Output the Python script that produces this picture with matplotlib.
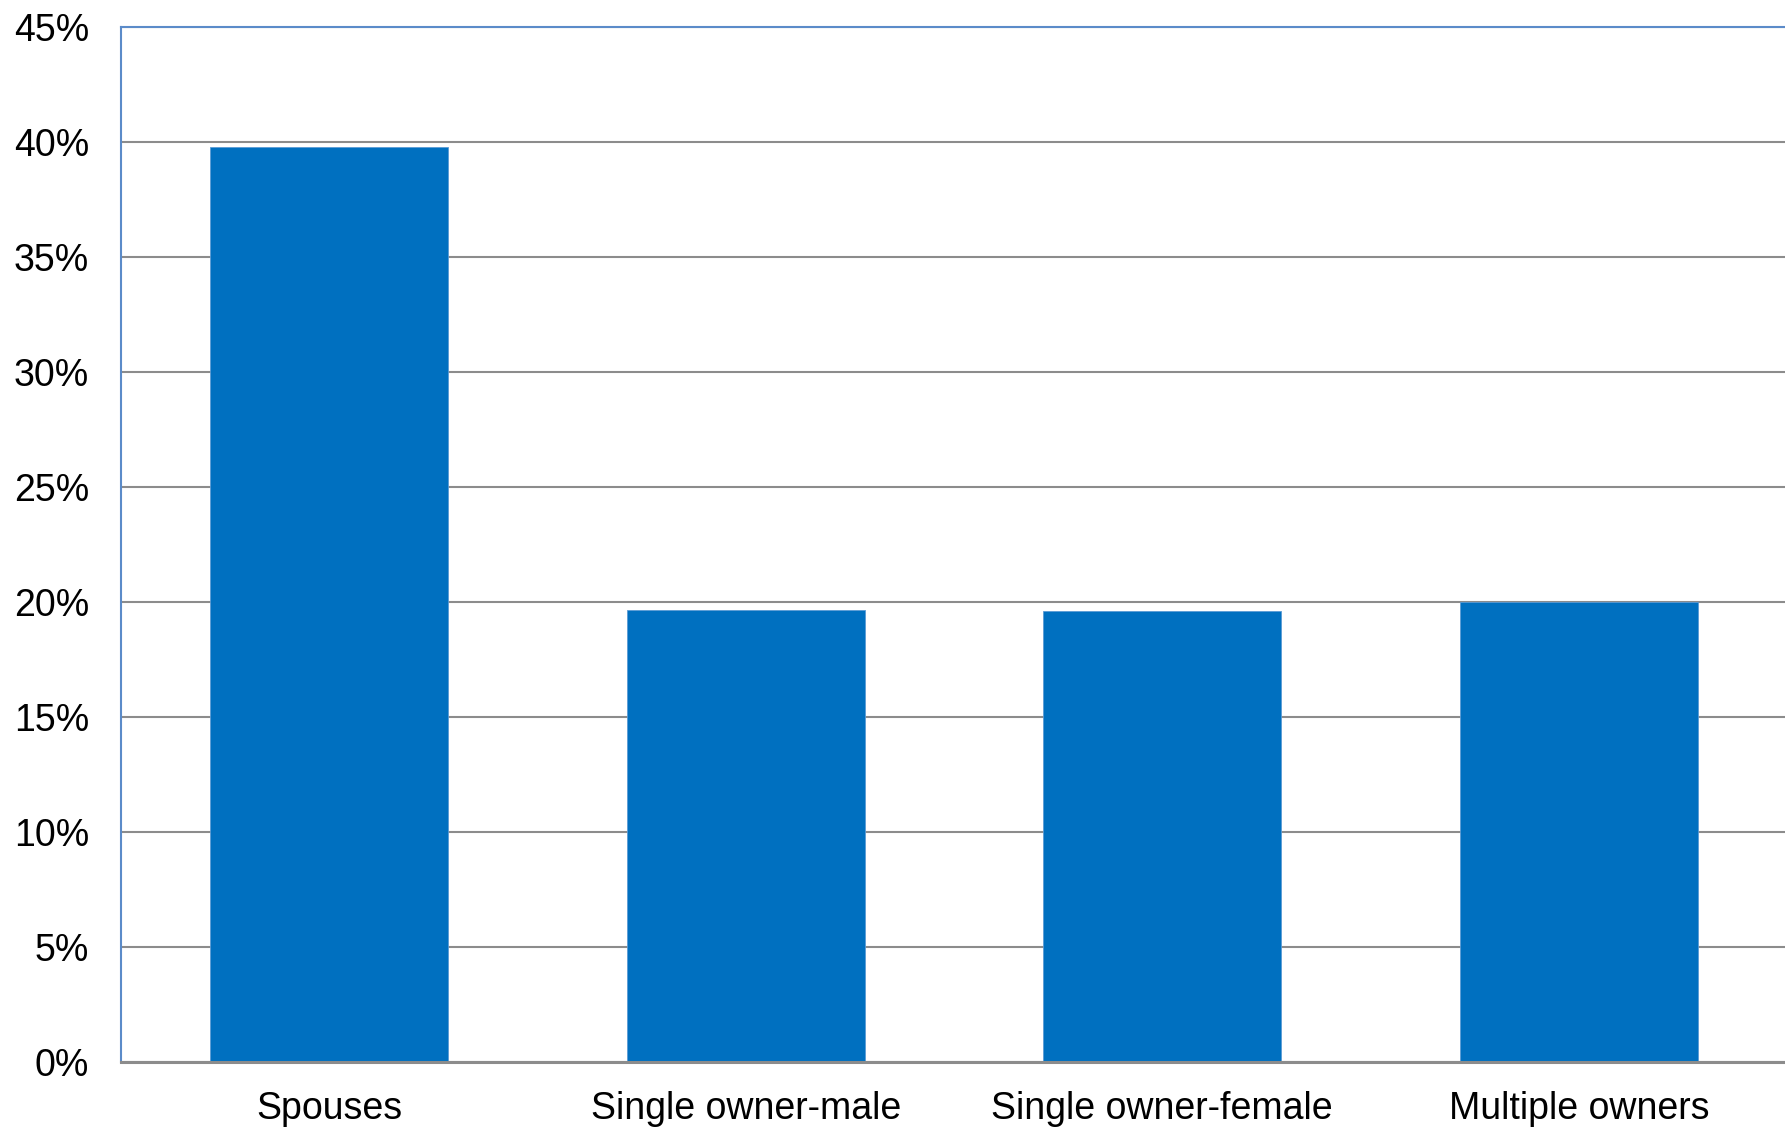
import matplotlib
matplotlib.use("Agg")
import matplotlib.pyplot as plt
from matplotlib.ticker import FuncFormatter, MultipleLocator

plt.rcParams['font.family'] = ['Liberation Sans', 'DejaVu Sans']

categories = ["Spouses", "Single owner-male", "Single owner-female", "Multiple owners"]
shares = [39.8, 19.65, 19.6, 20.0]

fig = plt.figure(figsize=(17.85, 11.28), dpi=100)
ax = fig.add_axes([121 / 1785, 1 - 1062 / 1128, 1 - 119 / 1785, (1062 - 27) / 1128])

x = list(range(len(categories)))
ax.bar(x, shares, width=0.572, color="#0070C0", edgecolor="#5B9BD5", linewidth=0.6, zorder=3)

ax.set_xlim(-0.5, len(categories) - 0.5)
ax.set_ylim(0, 45)
ax.yaxis.set_major_locator(MultipleLocator(5))
ax.yaxis.set_major_formatter(FuncFormatter(lambda v, _: f"{v:.0f}%"))
ax.set_xticks(x)
ax.set_xticklabels(categories)

ax.grid(axis="y", color="#8C8C8C", linewidth=1.5, zorder=1)
ax.tick_params(axis="both", length=0, labelsize=27, colors="black")
ax.tick_params(axis="y", pad=23)
ax.tick_params(axis="x", pad=21)

for side in ("left", "top", "right"):
    ax.spines[side].set_color("#5B8BC9")
    ax.spines[side].set_linewidth(1.5)
ax.spines["bottom"].set_color("#8C8C8C")
ax.spines["bottom"].set_linewidth(2.2)
ax.spines["bottom"].set_zorder(4)

fig.savefig("out.png", dpi=100, facecolor="white")
